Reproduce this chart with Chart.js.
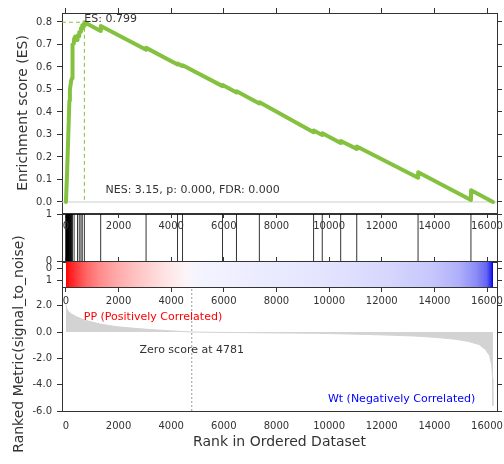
<!DOCTYPE html>
<html>
<head>
<meta charset="utf-8">
<script src="https://cdn.jsdelivr.net/npm/chart.js@4.4.0/dist/chart.umd.min.js"></script>
<style>
  body { margin: 0; background: #fff; }
  #wrap { position: relative; width: 504px; height: 464px; }
  canvas { position: absolute; left: 0; top: 0; }
</style>
</head>
<body>
<div id="wrap">
  <canvas id="cMetric" width="504" height="464"></canvas>
  <canvas id="cHits" width="504" height="464"></canvas>
  <canvas id="cBar" width="504" height="464"></canvas>
  <canvas id="cES" width="504" height="464"></canvas>
</div>
<script>
// ---- data ----
const nGenes = 16229;
const rankTicks = [0, 2000, 4000, 6000, 8000, 10000, 12000, 14000, 16000];
const esTicks = [0, 0.1, 0.2, 0.3, 0.4, 0.5, 0.6, 0.7, 0.8];
const metricTicks = [-6, -4, -2, 0, 2];
const binTicks = [0, 1];

// running enrichment score
const esRank = [0, 40, 90, 130, 150, 200, 230, 250, 300, 310, 350, 400, 430, 440, 500, 505, 560, 570, 615, 620, 695, 700,
    1320, 1325, 3045, 3050, 4240, 4245, 4430, 4435, 5950, 5955, 6480, 6485, 7350, 7355, 9410, 9415, 9740, 9745,
    10440, 10445, 11050, 11055, 13380, 13385, 15390, 15395, 16229];
const esScore = [0, 0.12, 0.30, 0.45, 0.50, 0.54, 0.55, 0.70, 0.705, 0.725, 0.735, 0.725, 0.72, 0.74, 0.737, 0.755, 0.757, 0.772, 0.77, 0.785, 0.782, 0.799,
    0.760, 0.782, 0.677, 0.685, 0.611, 0.615, 0.604, 0.608, 0.515, 0.520, 0.487, 0.492, 0.438, 0.443, 0.310, 0.318, 0.298, 0.306,
    0.262, 0.271, 0.236, 0.247, 0.108, 0.132, 0.009, 0.052, 0];

// positions of gene set members in the ranked list
const hitRank = [0, 6, 12, 18, 25, 32, 40, 48, 56, 65, 75, 85, 95, 105, 115, 128, 140, 155, 170, 185, 200, 215, 250, 310,
    440, 505, 570, 620, 700, 1320, 3045, 4240, 4430, 5950, 6480, 7350, 9410, 9740, 10440, 11050, 13380, 15390];

// ranked list metric (signal_to_noise)
const metricRank = [0, 10, 40, 100, 200, 400, 600, 800, 1300, 1900, 2600, 3200, 3900, 4781, 6000, 7000, 8500, 9600,
    11000, 12200, 13200, 14000, 14800, 15300, 15700, 15950, 16100, 16180, 16210, 16222, 16229];
const metricValue = [2.1, 1.95, 1.75, 1.55, 1.38, 1.16, 1.0, 0.86, 0.6, 0.41, 0.28, 0.19, 0.1, 0, -0.03, -0.05, -0.08, -0.1,
    -0.16, -0.23, -0.3, -0.4, -0.55, -0.72, -0.95, -1.35, -1.8, -2.5, -3.5, -5.6, -5.6];

const esMax = 0.799;
const esMaxRank = 700;
const zeroRank = 4781;
const statsText = 'NES: 3.15, p: 0.000, FDR: 0.000';
const posLabel = 'PP (Positively Correlated)';
const negLabel = 'Wt (Negatively Correlated)';

// ---- drawing ----
const xMin = -150, xMax = 16380;
const axisColor = '#333';
const green = '#84C13F';

Chart.defaults.font.family = 'DejaVu Sans';
Chart.defaults.font.size = 10;
Chart.defaults.color = '#333';

const base = {
    responsive: false,
    animation: false,
    devicePixelRatio: 1,
    events: [],
    plugins: { legend: { display: false }, tooltip: { enabled: false } }
};

const setTicks = vals => s => { s.ticks = vals.map(v => ({ value: v })); };
const fixSize = size => s => {
    if (s.isHorizontal()) s.height = size; else s.width = size;
    s.paddingLeft = s.paddingRight = s.paddingTop = s.paddingBottom = 0;
};

const xScale = (position, size, o) => ({
    type: 'linear', position, min: xMin, max: xMax,
    afterBuildTicks: setTicks(rankTicks),
    afterFit: fixSize(size),
    border: { color: axisColor },
    grid: { drawOnChartArea: false, drawTicks: !!o.marks, tickLength: 5, color: axisColor },
    ticks: { display: !!o.labels, autoSkip: false, maxRotation: 0, padding: o.pad || 3, callback: v => String(v) },
    title: o.title ? { display: true, text: o.title, font: { size: 14 }, padding: { top: 0, bottom: 13 } } : { display: false }
});

const yScale = (position, size, min, max, ticks, o) => ({
    type: 'linear', position, min, max, reverse: !!o.reverse,
    afterBuildTicks: setTicks(ticks),
    afterFit: fixSize(size),
    border: { color: axisColor },
    grid: { drawOnChartArea: false, tickLength: 5, color: axisColor },
    ticks: { display: !!o.labels, padding: 5, callback: o.fmt || (v => String(v)) },
    title: o.title ? { display: true, text: o.title, font: { size: 14 }, padding: { top: o.titlePad, bottom: 0 } } : { display: false }
});

const textPlugin = (id, items) => ({
    id,
    afterDatasetsDraw(chart) {
        const { ctx, chartArea, scales } = chart;
        items.forEach(n => {
            ctx.save();
            ctx.font = '11px "DejaVu Sans"';
            ctx.fillStyle = n.color || '#333';
            ctx.textAlign = n.align || 'left';
            ctx.textBaseline = 'alphabetic';
            const x = n.fx !== undefined ? chartArea.left + n.fx * (chartArea.right - chartArea.left) : scales.x.getPixelForValue(n.x);
            const y = n.fy !== undefined ? chartArea.bottom - n.fy * (chartArea.bottom - chartArea.top) : scales.y.getPixelForValue(n.y);
            ctx.fillText(n.text, x, y);
            ctx.restore();
        });
    }
});

// ranked metric panel
const metricTop = 4.18;
new Chart(document.getElementById('cMetric'), {
    type: 'scatter',
    data: {
        datasets: [{
            data: [{ x: zeroRank, y: -6 }, { x: zeroRank, y: metricTop }],
            showLine: true, borderColor: '#999', borderWidth: 1, borderDash: [2, 2], pointRadius: 0
        }, {
            data: metricRank.map((r, i) => ({ x: r, y: metricValue[i] })),
            showLine: true, fill: 'origin', backgroundColor: '#d3d3d3', borderColor: '#d3d3d3', borderWidth: 1, pointRadius: 0
        }]
    },
    options: {
        ...base,
        layout: { padding: { top: 277 } },
        scales: {
            x: xScale('bottom', 53, { labels: true, pad: 9, title: 'Rank in Ordered Dataset' }),
            y: yScale('left', 62, -6, metricTop, metricTicks, { labels: true, fmt: v => v.toFixed(1), title: 'Ranked Metric(signal_to_noise)', titlePad: 10.5 }),
            y2: yScale('right', 7, -6, metricTop, metricTicks, {})
        }
    },
    plugins: [textPlugin('metricText', [
        { text: posLabel, color: '#ff0000', fx: 0.05, y: 0.91 },
        { text: 'Zero score at ' + zeroRank, align: 'center', x: zeroRank, y: -1.6 },
        { text: negLabel, color: '#0000ff', align: 'right', fx: 0.95, y: -5.35 }
    ])]
});

// gene set hits panel
new Chart(document.getElementById('cHits'), {
    type: 'scatter',
    data: {
        datasets: [{
            data: hitRank.flatMap(h => [{ x: h, y: 0 }, { x: h, y: 1 }, { x: h, y: null }]),
            showLine: true, spanGaps: false, borderColor: 'rgba(0,0,0,0.8)', borderWidth: 1, pointRadius: 0
        }]
    },
    options: {
        ...base,
        scales: {
            x: xScale('bottom', 464 - 261, {}),
            xt: xScale('top', 214, {}),
            y: yScale('left', 62, 0, 1, binTicks, { labels: true }),
            y2: yScale('right', 7, 0, 1, binTicks, {})
        }
    }
});

// colour bar of the ranked list
const barStops = [
    [0, '255,0,0'], [0.01, '255,30,30'], [0.03, '255,70,70'], [0.05, '255,105,105'], [0.08, '255,140,140'],
    [0.12, '255,170,170'], [0.16, '255,192,192'], [0.2, '255,212,212'], [0.24, '255,230,230'], [0.28, '252,244,247'],
    [0.31, '244,244,255'], [0.45, '236,236,255'], [0.6, '228,228,255'], [0.75, '215,215,254'], [0.86, '198,198,252'],
    [0.92, '175,175,250'], [0.96, '140,140,246'], [0.985, '100,100,243'], [0.995, '40,40,238'], [1, '0,0,230']
];
new Chart(document.getElementById('cBar'), {
    type: 'scatter',
    data: {
        datasets: [{
            data: [{ x: 0, y: 1.5 }, { x: nGenes, y: 1.5 }],
            showLine: true, fill: { value: -0.5 }, borderColor: 'transparent', borderWidth: 0, pointRadius: 0,
            backgroundColor: c => {
                const chart = c.chart;
                if (!chart.chartArea) return '#fff';
                const x0 = chart.scales.x.getPixelForValue(0);
                const x1 = chart.scales.x.getPixelForValue(nGenes);
                const g = chart.ctx.createLinearGradient(x0, 0, x1, 0);
                barStops.forEach(s => g.addColorStop(s[0], 'rgb(' + s[1] + ')'));
                return g;
            }
        }]
    },
    options: {
        ...base,
        scales: {
            x: xScale('bottom', 464 - 287, { labels: true, marks: true, pad: 3 }),
            xt: xScale('top', 262, { marks: true }),
            y: yScale('left', 62, -0.5, 1.5, binTicks, { labels: true, reverse: true }),
            y2: yScale('right', 7, -0.5, 1.5, binTicks, { reverse: true })
        }
    }
});

// enrichment score panel
new Chart(document.getElementById('cES'), {
    type: 'scatter',
    data: {
        datasets: [{
            data: esRank.map((r, i) => ({ x: r, y: esScore[i] })),
            showLine: true, borderColor: green, borderWidth: 4, pointRadius: 0,
            borderJoinStyle: 'round', borderCapStyle: 'round'
        }, {
            data: [{ x: xMin, y: esMax }, { x: esMaxRank, y: esMax }, { x: esMaxRank, y: 0 }],
            showLine: true, borderColor: green, borderWidth: 1, borderDash: [4, 3], pointRadius: 0
        }, {
            data: [{ x: xMin, y: 0 }, { x: xMax, y: 0 }],
            showLine: true, borderColor: '#cccccc', borderWidth: 1, pointRadius: 0
        }]
    },
    options: {
        ...base,
        scales: {
            x: xScale('bottom', 464 - 213, { labels: true, marks: true, pad: 2 }),
            xt: xScale('top', 13, { marks: true }),
            y: yScale('left', 62, -0.049, 0.84, esTicks, { labels: true, fmt: v => v.toFixed(1), title: 'Enrichment score (ES)', titlePad: 15 }),
            y2: yScale('right', 7, -0.049, 0.84, esTicks, {})
        }
    },
    plugins: [textPlugin('esText', [
        { text: 'ES: ' + esMax.toFixed(3), x: esMaxRank, y: esMax },
        { text: statsText, fx: 0.1, fy: 0.1 }
    ])]
});
</script>
</body>
</html>
